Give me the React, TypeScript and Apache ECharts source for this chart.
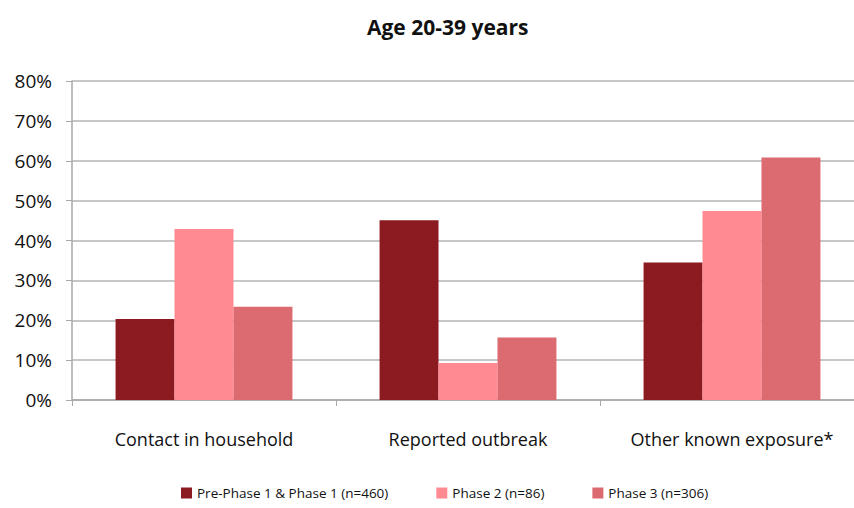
import React, { useEffect, useRef } from "react";
import * as echarts from "echarts";

const categories = ["Contact in household", "Reported outbreak", "Other known exposure*"];
const seriesNames = ["Pre-Phase 1 & Phase 1 (n=460)", "Phase 2 (n=86)", "Phase 3 (n=306)"];
const prePhase1 = [20.3, 45.1, 34.5];
const phase2 = [42.9, 9.3, 47.4];
const phase3 = [23.4, 15.7, 60.8];
const colors = ["#8B1A21", "#FF8A92", "#DC6B71"];
const titleText = "Age 20-39 years";

const FONT = "'Open Sans', sans-serif";

export default function App() {
  const ref = useRef<HTMLDivElement>(null);
  useEffect(() => {
    if (!ref.current) return;
    const chart = echarts.init(ref.current, undefined, { renderer: "svg" });
    const values = [prePhase1, phase2, phase3];
    chart.setOption({
      animation: false,
      backgroundColor: "#ffffff",
      title: {
        text: titleText,
        left: 362,
        top: 11,
        textStyle: { fontFamily: FONT, fontSize: 21, fontWeight: "bold", color: "#111" },
      },
      legend: {
        bottom: 3,
        left: 176,
        itemWidth: 11,
        itemHeight: 11,
        itemGap: 48,
        icon: "rect",
        textStyle: { fontFamily: FONT, fontSize: 13.5, color: "#111" },
        data: seriesNames,
      },
      grid: { left: 72, top: 81, height: 319, width: 792, outerBoundsMode: "none", containLabel: false },
      xAxis: {
        type: "category",
        data: categories,
        axisLine: { lineStyle: { color: "#a8a8a8", width: 1.5 } },
        axisTick: { show: true, length: 6, lineStyle: { color: "#a8a8a8" } },
        axisLabel: { fontFamily: FONT, fontSize: 18, color: "#111", margin: 30, interval: 0 },
      },
      yAxis: {
        type: "value",
        min: 0,
        max: 80,
        interval: 10,
        axisLine: { show: true, lineStyle: { color: "#a8a8a8", width: 1.5 } },
        axisTick: { show: true, length: 6, lineStyle: { color: "#a8a8a8" } },
        splitLine: { lineStyle: { color: "#b4b4b4", width: 1.5 } },
        axisLabel: { fontFamily: FONT, fontSize: 19, color: "#111", margin: 20, formatter: "{value}%" },
      },
      series: seriesNames.map((name, i) => ({
        name,
        type: "bar",
        data: values[i],
        barGap: "0%",
        barCategoryGap: "33%",
        itemStyle: { color: colors[i] },
      })),
    });
    return () => chart.dispose();
  }, []);
  return <div ref={ref} style={{ position: "fixed", left: 0, top: 0, width: 854, height: 508 }} />;
}
